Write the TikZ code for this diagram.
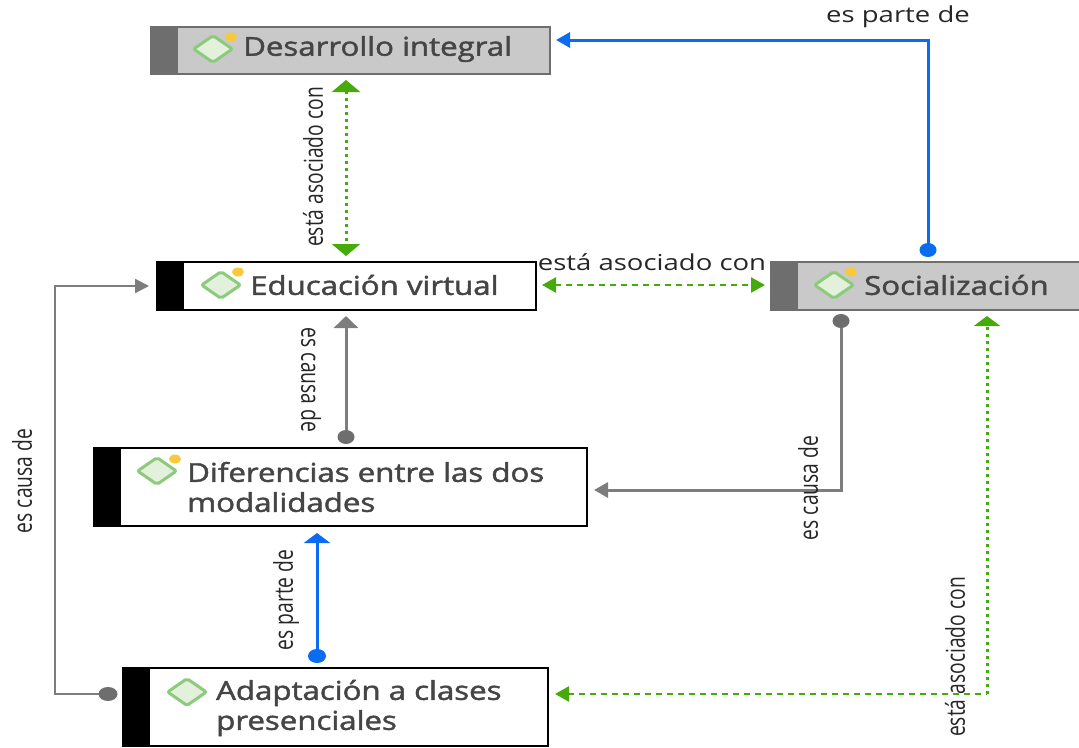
\documentclass[tikz,border=0pt]{standalone}
\usepackage{fontspec}
\setmainfont{Open Sans}
\newfontfamily\tfont[FakeBold=1.6]{Open Sans}
\usetikzlibrary{arrows.meta,shapes.geometric}
\definecolor{cblue}{HTML}{0A6CF0}
\definecolor{cgreen}{HTML}{46AA0A}
\definecolor{cgray}{HTML}{6E6E6E}
\definecolor{ctext}{HTML}{454545}
\definecolor{cfill}{HTML}{C9C9C9}
\definecolor{cdiam}{HTML}{8CCB7C}
\definecolor{cdiamf}{HTML}{E2F0DC}
\definecolor{cdot}{HTML}{F8C93A}
\newcommand{\tw}[1]{\scalebox{1.2}[1]{#1}}
\newcommand{\rl}[1]{\scalebox{.74}[1]{#1}}
\newcommand{\hl}[1]{\scalebox{1.25}[1]{#1}}
\tikzset{
  x=1pt,y=-1pt,
  box/.style={draw=black,line width=2.6pt,fill=white,anchor=north west,inner sep=0pt,outer sep=0pt},
  gbox/.style={box,draw=cgray,fill=cfill},
  stripe/.style={fill=black,draw=none,anchor=north west,inner sep=0pt,outer sep=0pt,minimum width=28pt},
  gstripe/.style={stripe,fill=cgray},
  title/.style={anchor=west,inner sep=0pt,text=ctext,align=left,font=\fontsize{26}{30}\selectfont\tfont},
  diam/.style={diamond,draw=cdiam,fill=cdiamf,line width=3pt,rounded corners=2pt,minimum width=40pt,minimum height=28pt,inner sep=0pt,aspect=1.4},
  ydot/.style={ellipse,fill=cdot,inner sep=0pt,minimum width=12pt,minimum height=9pt},
  lab/.style={inner sep=0pt,text=black!85,font=\fontsize{26}{30}\selectfont},
  labh/.style={inner sep=0pt,text=black!85,font=\fontsize{22}{24}\selectfont},
  bluel/.style={draw=cblue,line width=3pt},
  grayl/.style={draw=cgray!90,line width=3pt},
  greenl/.style={draw=cgreen,line width=3pt,dash pattern=on 3pt off 4pt},
  greend/.style={draw=cgreen,line width=2.6pt,dash pattern=on 6pt off 5pt},
  enddot/.style={ellipse,inner sep=0pt,minimum width=17pt,minimum height=14pt},
}
\begin{document}
\begin{tikzpicture}
\useasboundingbox (0,0) rectangle (1079,747);
% boxes
\node[gbox,minimum width=399pt,minimum height=47pt] (des) at (151,27) {};
\node[gstripe,minimum height=49pt] (dess) at (150,26) {};
\node[box,minimum width=379pt,minimum height=48pt] (edu) at (157,262) {};
\node[stripe,minimum height=50pt] (edus) at (156,261) {};
\node[gbox,minimum width=312pt,minimum height=48pt] (soc) at (771,262) {};
\node[gstripe,minimum height=50pt] (socs) at (770,261) {};
\node[box,minimum width=493pt,minimum height=78pt] (dif) at (94,448) {};
\node[stripe,minimum height=80pt] (difs) at (93,447) {};
\node[box,minimum width=425pt,minimum height=78pt] (ada) at (123,668) {};
\node[stripe,minimum height=80pt] (adas) at (122,667) {};
% icons
\node[diam] (d1) at (213,49) {}; \node[ydot] (y1) at (231,37) {};
\node[diam] (d2) at (221,285) {}; \node[ydot] (y2) at (238,272) {};
\node[diam] (d3) at (834,285) {}; \node[ydot] (y3) at (851,272) {};
\node[diam] (d4) at (157,471) {}; \node[ydot] (y4) at (175,459) {};
\node[diam] (d5) at (187,692) {};
% titles
\node[title] (t1) at (243,49) {\tw{Desarrollo integral}};
\node[title] (t2) at (250,285) {\tw{Educación virtual}};
\node[title] (t3) at (864,285) {\tw{Socialización}};
\node[title] (t4) at (187,487) {\tw{Diferencias entre las dos}\\[0pt]\tw{modalidades}};
\node[title] (t5) at (216,708) {\tw{Adaptación a clases}\\[0pt]\tw{presenciales}};
% free ends
\coordinate (a1s) at (928,250); \coordinate (a1c) at (928,40); \coordinate (a1e) at (556,40);
\coordinate (a2s) at (346,80); \coordinate (a2e) at (346,256);
\coordinate (a3s) at (542,285); \coordinate (a3e) at (765,285);
\coordinate (a4s) at (346,437); \coordinate (a4e) at (346,316);
\coordinate (a5s) at (841,321); \coordinate (a5c) at (841,490); \coordinate (a5e) at (594,490);
\coordinate (a6s) at (317,656); \coordinate (a6e) at (317,533);
\coordinate (a7s) at (108,694); \coordinate (a7c) at (55,694); \coordinate (a7d) at (55,286); \coordinate (a7e) at (149,286);
\coordinate (a8s) at (555,694); \coordinate (a8c) at (987,694); \coordinate (a8e) at (987,316);
% connectors
\draw[bluel,{Triangle[width=15pt,length=14pt]}-] (a1e) -- (a1c) -- (a1s);
\node[enddot,fill=cblue,minimum width=17pt] (e1) at (a1s) {};
\draw[greenl,{Triangle[width=28pt,length=12pt]}-{Triangle[width=28pt,length=12pt]}] (a2s) -- (a2e);
\draw[greend,{Triangle[width=15pt,length=14pt]}-{Triangle[width=15pt,length=14pt]}] (a3s) -- (a3e);
\draw[grayl,-{Triangle[width=24pt,length=12pt]}] (a4s) -- (a4e);
\node[enddot,fill=cgray] (e4) at (a4s) {};
\draw[grayl,-{Triangle[width=15pt,length=14pt]}] (a5s) -- (a5c) -- (a5e);
\node[enddot,fill=cgray] (e5) at (a5s) {};
\draw[bluel,-{Triangle[width=26pt,length=10pt]}] (a6s) -- (a6e);
\node[enddot,fill=cblue,minimum width=18pt] (e6) at (a6s) {};
\draw[grayl,line width=2.4pt,-{Triangle[width=14pt,length=14pt]}] (a7s) -- (a7c) -- (a7d) -- (a7e);
\node[enddot,fill=cgray,minimum width=19pt] (e7) at (a7s) {};
\draw[greend,{Triangle[width=15pt,length=14pt]}-] (a8s) -- (a8c);
\draw[greenl,-{Triangle[width=26pt,length=10pt]}] (a8c) -- (a8e);
% labels
\node[labh] (l1) at (898,17) {\hl{es parte de}};
\node[labh] (l2) at (652,262) {\hl{está asociado con}};
\node[lab,rotate=90] (l3) at (313,167) {\rl{está asociado con}};
\node[lab,rotate=-90] (l4) at (311,380) {\rl{es causa de}};
\node[lab,rotate=90] (l5) at (808,488) {\rl{es causa de}};
\node[lab,rotate=90] (l6) at (286,600) {\rl{es parte de}};
\node[lab,rotate=90] (l7) at (22,481) {\rl{es causa de}};
\node[lab,rotate=90] (l8) at (955,657) {\rl{está asociado con}};
\end{tikzpicture}
\end{document}
